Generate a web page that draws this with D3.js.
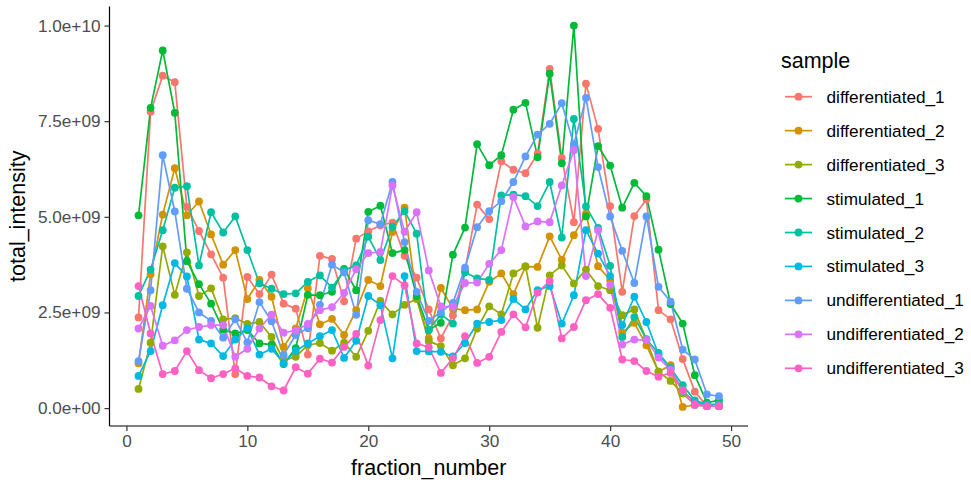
<!DOCTYPE html>
<html>
<head>
<meta charset="utf-8">
<script src="https://cdn.jsdelivr.net/npm/d3@7/dist/d3.min.js"></script>
<style>
  html, body { margin: 0; padding: 0; background: #ffffff; }
  svg { display: block; font-family: "Liberation Sans", Arial, Helvetica, sans-serif; }
</style>
</head>
<body>
<svg id="chart" width="971" height="484"></svg>
<script>
// ---------------- DATA (values in units of 1e9) ----------------
const UNIT = 1e9;
const fractions = d3.range(1, 50);
const sampleNames = [
  "differentiated_1", "differentiated_2", "differentiated_3",
  "stimulated_1", "stimulated_2", "stimulated_3",
  "undifferentiated_1", "undifferentiated_2", "undifferentiated_3"
];
const sampleColors = ["#F8766D", "#D39200", "#93AA00", "#00BA38", "#00C19F", "#00B9E3", "#619CFF", "#DB72FB", "#FF61C3"];

const differentiated_1 = [2.37,7.75,8.69,8.52,5.26,4.63,4.02,3.41,0.89,3.43,2.98,3.49,2.73,2.60,1.40,3.98,3.90,2.79,4.43,4.62,4.78,4.85,3.98,3.41,2.58,1.82,2.43,3.60,5.32,4.94,6.45,6.23,6.14,6.65,8.87,6.54,4.86,8.48,7.30,5.28,3.04,5.02,5.46,2.56,2.32,1.28,0.43,0.05,0.05];
const differentiated_2 = [1.17,3.50,5.06,6.27,5.04,5.40,4.54,3.75,4.13,2.85,3.35,2.91,1.60,2.08,3.13,2.19,2.33,1.91,2.56,3.35,3.19,4.60,5.24,2.87,1.82,3.14,2.60,2.56,2.58,3.30,3.52,2.98,3.70,3.69,4.49,3.88,4.52,5.08,3.71,3.35,1.97,2.23,1.64,0.95,1.12,0.03,0.08,0.05,0.05];
const differentiated_3 = [0.50,1.71,4.23,2.96,4.07,2.93,3.13,2.32,2.35,2.20,2.25,1.86,1.25,1.34,1.65,1.70,1.50,1.71,1.34,2.02,2.80,2.45,2.70,2.85,1.75,1.62,1.12,1.30,2.08,2.66,2.45,3.52,3.71,2.10,3.47,3.73,3.26,3.62,3.19,3.08,2.43,2.58,1.78,0.95,0.71,0.38,0.10,0.05,0.05];
const stimulated_1 = [5.04,7.85,9.35,7.72,3.84,3.24,2.73,2.05,1.95,2.04,1.69,1.66,1.15,1.57,2.96,2.95,3.04,3.64,3.08,5.13,5.29,4.05,4.13,2.93,2.04,2.23,4.01,4.72,6.90,6.35,6.61,7.80,7.98,6.56,8.74,6.40,10.00,5.01,6.85,6.34,5.24,5.89,5.54,4.14,2.72,2.21,0.86,0.14,0.21];
const stimulated_2 = [2.93,3.62,4.65,5.76,5.80,3.73,5.12,4.59,5.01,4.13,3.26,3.12,2.98,3.00,3.30,3.47,3.15,3.60,3.73,4.48,3.87,4.74,5.15,4.56,2.05,2.45,2.21,3.55,3.39,3.35,5.56,5.58,5.54,5.28,5.91,4.46,7.56,5.27,4.71,3.72,1.86,2.38,1.80,1.44,1.05,0.60,0.20,0.10,0.10];
const stimulated_3 = [0.84,1.49,2.69,3.79,3.44,1.79,1.69,1.36,1.79,2.09,1.40,1.55,1.17,1.50,1.69,1.88,2.04,1.31,1.76,2.93,2.69,1.30,3.45,1.49,1.48,1.47,1.35,1.70,2.21,2.25,2.30,2.85,2.58,3.08,3.19,2.21,2.95,4.65,4.04,3.45,2.17,2.91,2.25,1.40,1.04,0.45,0.15,0.08,0.08];
const undifferentiated_1 = [1.23,3.08,6.61,5.14,3.12,2.50,2.28,1.84,2.32,1.72,2.77,2.27,1.39,1.91,2.09,2.70,3.75,3.55,2.44,4.91,4.81,5.91,4.34,3.04,2.28,2.51,2.75,3.67,4.73,5.15,5.41,5.91,6.58,7.15,7.43,7.97,6.89,8.11,6.30,5.01,4.11,3.27,5.01,3.17,2.78,1.53,1.27,0.36,0.31];
const undifferentiated_2 = [2.08,2.67,1.63,1.77,2.04,2.12,2.17,2.17,1.34,1.55,2.08,2.44,1.97,2.03,2.20,2.56,2.64,3.01,3.63,4.05,4.08,5.82,4.61,5.12,3.60,2.66,2.65,3.27,3.28,3.77,4.13,5.52,4.75,4.88,4.86,5.82,6.74,3.45,4.65,3.22,1.66,1.79,1.78,1.32,1.00,0.45,0.08,0.05,0.05];
const undifferentiated_3 = [3.19,1.95,0.89,0.97,1.49,0.99,0.78,0.89,1.04,0.84,0.80,0.57,0.46,1.07,0.90,1.29,1.19,1.60,1.94,1.11,2.30,3.45,3.21,1.69,1.59,0.92,1.30,1.88,1.18,1.34,1.99,2.45,2.11,3.02,3.32,1.82,2.12,2.82,2.98,2.62,1.27,1.23,0.97,0.82,0.92,0.47,0.10,0.05,0.05];

const seriesValues = [differentiated_1, differentiated_2, differentiated_3,
  stimulated_1, stimulated_2, stimulated_3,
  undifferentiated_1, undifferentiated_2, undifferentiated_3];

const xTicks = [0, 10, 20, 30, 40, 50];
const yTicks = [0, 2.5e9, 5e9, 7.5e9, 1e10];
const yTickLabels = ["0.0e+00", "2.5e+09", "5.0e+09", "7.5e+09", "1.0e+10"];
const xTitle = "fraction_number";
const yTitle = "total_intensity";
const legendTitle = "sample";

// ---------------- LAYOUT ----------------
const svg = d3.select("#chart");
const panel = { left: 109.5, right: 748, top: 6.5, bottom: 426 };
const tickFont = 17.2, titleFont = 21.5;

const series = sampleNames.map((name, i) => ({
  name, color: sampleColors[i],
  points: fractions.map((f, j) => ({ x: f, y: seriesValues[i][j] * UNIT }))
}));

function expand(ext, m) { const d = (ext[1] - ext[0]) * m; return [ext[0] - d, ext[1] + d]; }
const allPts = series.flatMap(s => s.points);
const x = d3.scaleLinear().domain(expand(d3.extent(fractions), 0.05)).range([panel.left, panel.right]);
const y = d3.scaleLinear().domain(expand(d3.extent(allPts, d => d.y), 0.05)).range([panel.bottom, panel.top]);

// ---------------- MARKS ----------------
const line = d3.line().x(d => x(d.x)).y(d => y(d.y));
const plot = svg.append("g");
plot.selectAll("path.series").data(series).join("path")
  .attr("class", "series")
  .attr("d", d => line(d.points))
  .attr("fill", "none")
  .attr("stroke", d => d.color)
  .attr("stroke-width", 1.7)
  .attr("stroke-linejoin", "round");

series.forEach(s => {
  plot.append("g").selectAll("circle").data(s.points).join("circle")
    .attr("cx", d => x(d.x)).attr("cy", d => y(d.y)).attr("r", 3.9)
    .attr("fill", s.color);
});

// ---------------- AXES ----------------
const xAxis = svg.append("g").attr("transform", `translate(0,${panel.bottom})`)
  .call(d3.axisBottom(x).tickValues(xTicks).tickSize(5).tickPadding(4).tickSizeOuter(0));
const yAxis = svg.append("g").attr("transform", `translate(${panel.left},0)`)
  .call(d3.axisLeft(y).tickValues(yTicks).tickFormat((d, i) => yTickLabels[i]).tickSize(5).tickPadding(4).tickSizeOuter(0));

[xAxis, yAxis].forEach(a => {
  a.select(".domain").attr("stroke", "#000").attr("stroke-width", 1.2);
  a.selectAll(".tick line").attr("stroke", "#333").attr("stroke-width", 1.2);
  a.selectAll(".tick text").attr("fill", "#4D4D4D").style("font-size", tickFont + "px")
    .style("font-family", '"Liberation Sans", Arial, sans-serif');
});
// extend domains to panel edges
xAxis.select(".domain").attr("d", `M${panel.left},0H${panel.right}`);
yAxis.select(".domain").attr("d", `M0,${panel.bottom}V${panel.top}`);

svg.append("text").attr("x", (panel.left + panel.right) / 2).attr("y", 475)
  .attr("text-anchor", "middle").style("font-size", titleFont + "px").attr("fill", "#000").text(xTitle);
svg.append("text").attr("transform", `translate(25,${(panel.top + panel.bottom) / 2}) rotate(-90)`)
  .attr("text-anchor", "middle").style("font-size", titleFont + "px").attr("fill", "#000").text(yTitle);

// ---------------- LEGEND ----------------
const lg = svg.append("g");
lg.append("text").attr("x", 781).attr("y", 67.5).style("font-size", titleFont + "px").attr("fill", "#000").text(legendTitle);
const item = lg.selectAll("g.item").data(series).join("g").attr("class", "item")
  .attr("transform", (d, i) => `translate(0,${96.7 + i * 33.95})`);
item.append("line").attr("x1", 785).attr("x2", 812).attr("y1", 0).attr("y2", 0)
  .attr("stroke", d => d.color).attr("stroke-width", 1.7);
item.append("circle").attr("cx", 798.5).attr("cy", 0).attr("r", 3.9).attr("fill", d => d.color);
item.append("text").attr("x", 826.5).attr("y", 0).attr("dy", "0.35em")
  .style("font-size", tickFont + "px").attr("fill", "#000").text(d => d.name);
</script>
</body>
</html>
